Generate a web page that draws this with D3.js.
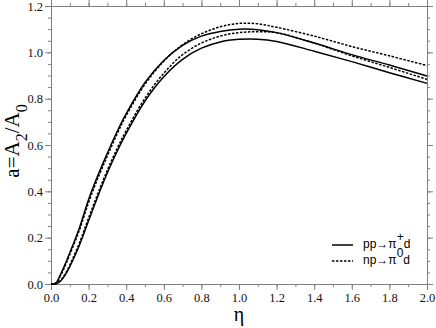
<!DOCTYPE html>
<html>
<head>
<meta charset="utf-8">
<script src="https://cdn.jsdelivr.net/npm/d3@7"></script>
<style>
  body { margin: 0; background: #fff; }
</style>
</head>
<body>
<div id="chart"></div>
<script>
// eta grid shared by all four curves
const eta = [0, 0.025, 0.05, 0.075, 0.1, 0.15, 0.2, 0.25, 0.3, 0.35, 0.4, 0.5, 0.6, 0.7, 0.8, 0.9, 1.0, 1.1, 1.2, 1.4, 1.6, 1.8, 2.0];

// pp -> pi+ d (solid), two curves
const ppUpper = [0, 0.004, 0.04, 0.085, 0.135, 0.24, 0.365, 0.47, 0.565, 0.655, 0.735, 0.87, 0.965, 1.03, 1.07, 1.09, 1.10, 1.098, 1.085, 1.04, 0.99, 0.945, 0.898];
const ppLower = [0, 0.001, 0.012, 0.038, 0.075, 0.165, 0.273, 0.38, 0.48, 0.57, 0.65, 0.79, 0.895, 0.97, 1.018, 1.045, 1.056, 1.057, 1.047, 1.005, 0.96, 0.912, 0.866];
// np -> pi0 d (dashed), two curves
const npUpper = [0, 0.003, 0.035, 0.078, 0.127, 0.23, 0.352, 0.458, 0.553, 0.645, 0.727, 0.862, 0.962, 1.033, 1.08, 1.11, 1.125, 1.123, 1.108, 1.07, 1.025, 0.985, 0.943];
const npLower = [0, 0.001, 0.015, 0.043, 0.082, 0.175, 0.285, 0.392, 0.492, 0.582, 0.662, 0.802, 0.91, 0.99, 1.04, 1.07, 1.085, 1.089, 1.085, 1.04, 0.985, 0.935, 0.883];

const xTicks = [0, 0.2, 0.4, 0.6, 0.8, 1.0, 1.2, 1.4, 1.6, 1.8, 2.0];
const yTicks = [0, 0.2, 0.4, 0.6, 0.8, 1.0, 1.2];

const svgWidth = 436;
const svgHeight = 328;
const margin = { top: 6, right: 9, bottom: 44, left: 51 };
const width = svgWidth - margin.left - margin.right;
const height = svgHeight - margin.top - margin.bottom;

const serif = "'Liberation Serif', 'Times New Roman', serif";
const sans = "'Liberation Sans', Arial, sans-serif";
const frameColor = "#808080";

const svg = d3.select("#chart").append("svg")
  .attr("width", svgWidth)
  .attr("height", svgHeight);

const g = svg.append("g")
  .attr("transform", `translate(${margin.left},${margin.top})`);

const x = d3.scaleLinear().domain([0, 2]).range([0, width]);
const y = d3.scaleLinear().domain([0, 1.2]).range([height, 0]);

const xMinor = d3.range(0, 2.0001, 0.1);
const yMinor = d3.range(0, 1.2001, 0.05);

function styleAxis(sel) {
  sel.attr("font-family", serif);
  sel.selectAll("path, line").attr("stroke", frameColor);
  sel.selectAll("text")
    .style("font-family", serif)
    .style("font-size", "12.5px")
    .attr("fill", "#111");
}

// minor ticks on all four sides
g.append("g").attr("transform", `translate(0,${height})`)
  .call(d3.axisBottom(x).tickValues(xMinor).tickSize(3).tickFormat(""))
  .call(styleAxis);
g.append("g")
  .call(d3.axisTop(x).tickValues(xMinor).tickSize(3).tickFormat(""))
  .call(styleAxis);
g.append("g")
  .call(d3.axisLeft(y).tickValues(yMinor).tickSize(3).tickFormat(""))
  .call(styleAxis);
g.append("g").attr("transform", `translate(${width},0)`)
  .call(d3.axisRight(y).tickValues(yMinor).tickSize(3).tickFormat(""))
  .call(styleAxis);

// major ticks
g.append("g").attr("transform", `translate(0,${height})`)
  .call(d3.axisBottom(x).tickValues(xTicks).tickSize(6).tickSizeOuter(0).tickPadding(3).tickFormat(d3.format(".1f")))
  .call(styleAxis);
g.append("g")
  .call(d3.axisTop(x).tickValues(xTicks).tickSize(6).tickSizeOuter(0).tickFormat(""))
  .call(styleAxis);
g.append("g")
  .call(d3.axisLeft(y).tickValues(yTicks).tickSize(6).tickSizeOuter(0).tickPadding(2).tickFormat(d3.format(".1f")))
  .call(styleAxis);
g.append("g").attr("transform", `translate(${width},0)`)
  .call(d3.axisRight(y).tickValues(yTicks).tickSize(6).tickSizeOuter(0).tickFormat(""))
  .call(styleAxis);

// curves
const line = d3.line()
  .x((d, i) => x(eta[i]))
  .y(d => y(d))
  .curve(d3.curveCatmullRom.alpha(0.5));

const curves = [
  { vals: ppUpper, dash: null },
  { vals: ppLower, dash: null },
  { vals: npUpper, dash: "2.5,1.5" },
  { vals: npLower, dash: "2.5,1.5" }
];

g.selectAll(".curve")
  .data(curves)
  .enter()
  .append("path")
  .attr("class", "curve")
  .attr("d", d => line(d.vals))
  .attr("fill", "none")
  .attr("stroke", "#000")
  .attr("stroke-width", 1.5)
  .attr("stroke-dasharray", d => d.dash);

// axis titles
svg.append("text")
  .attr("x", 239)
  .attr("y", 321)
  .attr("text-anchor", "middle")
  .style("font-family", serif)
  .style("font-size", "20px")
  .text("η");

const yTitle = svg.append("text")
  .attr("transform", "translate(19,141) rotate(-90)")
  .attr("text-anchor", "middle")
  .style("font-family", serif)
  .style("font-size", "21px");
yTitle.append("tspan").text("a=A");
yTitle.append("tspan").attr("dy", 8).style("font-size", "16px").text("2");
yTitle.append("tspan").attr("dy", -8).text("/A");
yTitle.append("tspan").attr("dy", 8).style("font-size", "16px").text("0");

// legend
const legend = [
  { name: "pp→π", sup: "+", tail: "d", dash: null },
  { name: "np→π", sup: "0", tail: "d", dash: "2.5,1.5" }
];
const lg = svg.append("g").attr("transform", "translate(332,245)");
legend.forEach((d, i) => {
  lg.append("line")
    .attr("x1", 0).attr("x2", 21)
    .attr("y1", i * 16).attr("y2", i * 16)
    .attr("stroke", "#000")
    .attr("stroke-width", 1.5)
    .attr("stroke-dasharray", d.dash);
  const t = lg.append("text")
    .attr("x", 31)
    .attr("y", i * 16 + 3)
    .style("font-family", sans)
    .style("font-size", "12px");
  t.append("tspan").text(d.name);
  t.append("tspan").attr("dy", -7).text(d.sup);
  t.append("tspan").attr("dy", 7).text(d.tail);
});
</script>
</body>
</html>
